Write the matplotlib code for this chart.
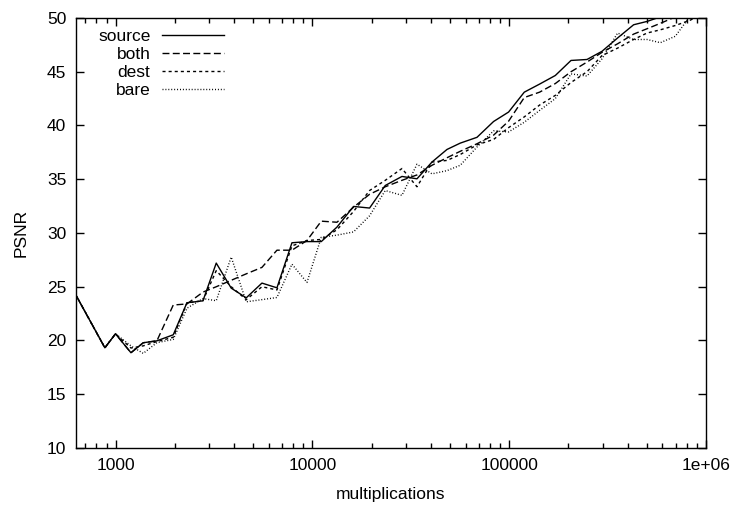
import numpy as np
import matplotlib
matplotlib.use('agg')
import matplotlib.pyplot as plt
from matplotlib.ticker import FixedLocator, LogLocator, FuncFormatter, NullFormatter

plt.rcParams['font.family'] = ['Liberation Sans', 'DejaVu Sans']
plt.rcParams['font.size'] = 12.5

# x positions shared by all runs (multiplications)
mults = [628, 883, 1000, 1198, 1383, 1623, 1965, 2306, 2781, 3249,
         3871, 4615, 5545, 6609, 7877, 9389, 11100, 13340, 16190, 19530,
         23470, 28530, 34000, 40530, 48300, 56420, 68620, 83300, 99300, 119300,
         142700, 171500, 206100, 248500, 296100, 355400, 428700, 501500, 585800, 698200,
         832300, 991800]

source = [24.25, 19.32, 20.62, 18.86, 19.79, 19.97, 20.53, 23.51, 23.69, 27.2,
          24.87, 23.97, 25.34, 24.9, 29.09, 29.2, 29.2, 30.55, 32.47, 32.32,
          34.42, 35.26, 35.04, 36.6, 37.77, 38.36, 38.9, 40.37, 41.25, 43.1,
          43.85, 44.65, 46.05, 46.14, 46.9, 48.14, 49.37, 49.68, 50.1, 50.6,
          51.2, 51.8]

both = [24.25, 19.32, 20.62, 18.86, 19.79, 19.97, 23.3, 23.4, 24.5, 25.0,
        25.6, 26.2, 26.8, 28.4, 28.4, 29.3, 31.1, 31.0, 32.4, 33.6,
        34.3, 34.9, 35.4, 36.3, 37.0, 37.6, 38.3, 39.1, 40.4, 42.6,
        43.1, 43.9, 45.0, 45.9, 46.8, 47.6, 48.5, 49.0, 49.5, 50.1,
        50.6, 51.2]

dest = [24.25, 19.32, 20.62, 19.3, 19.5, 19.9, 20.3, 23.5, 23.7, 26.5,
        25.0, 23.8, 25.0, 24.7, 28.8, 29.3, 29.4, 30.3, 32.0, 33.95,
        34.9, 36.0, 34.3, 36.6, 36.75, 37.3, 38.2, 38.7, 39.8, 40.8,
        41.9, 42.8, 44.0, 45.0, 46.5, 47.2, 48.0, 48.6, 48.9, 49.3,
        49.8, 50.5]

bare = [24.25, 19.32, 20.62, 19.5, 18.8, 19.8, 20.1, 23.0, 23.9, 23.7,
        27.76, 23.6, 23.8, 24.0, 27.1, 25.4, 29.6, 29.8, 30.1, 31.6,
        33.95, 33.5, 36.4, 35.5, 35.8, 36.3, 38.0, 39.5, 39.4, 40.3,
        41.4, 42.5, 44.8, 44.6, 46.2, 48.6, 48.0, 48.0, 47.7, 48.3,
        50.2, 51.5]

fig = plt.figure(figsize=(7.33, 5.11), dpi=100)
ax = fig.add_axes([0.1037, 0.1233, 0.8595, 0.8415])

ax.plot(mults, source, color='black', lw=1.0, label='source')
ax.plot(mults, both, color='black', lw=1.0, dashes=(5.0, 2.4), label='both')
ax.plot(mults, dest, color='black', lw=1.0, dashes=(2.2, 2.2), label='dest')
ax.plot(mults, bare, color='black', lw=1.0, dashes=(0.7, 1.4), label='bare')

ax.set_xscale('log')
ax.set_xlim(630, 1e6)
ax.set_ylim(10, 50)

ax.xaxis.set_major_locator(FixedLocator([1e3, 1e4, 1e5, 1e6]))
ax.xaxis.set_major_formatter(FuncFormatter(lambda v, p: '1e+06' if v >= 1e6 else '%d' % v))
ax.xaxis.set_minor_locator(LogLocator(base=10, subs=np.arange(2, 10)))
ax.xaxis.set_minor_formatter(NullFormatter())
ax.set_yticks(np.arange(10, 51, 5))

ax.tick_params(which='both', direction='in', top=True, right=True, width=1.0)
ax.tick_params(which='major', length=6, pad=7)
ax.tick_params(which='minor', length=3.5)
for s in ax.spines.values():
    s.set_linewidth(1.0)

ax.set_xlabel('multiplications', labelpad=10)
ax.set_ylabel('PSNR', labelpad=13)

leg = ax.legend(loc='upper left', bbox_to_anchor=(0.035, 0.975), frameon=False,
                markerfirst=False, handlelength=3.6, handletextpad=0.65,
                labelspacing=0.17, borderpad=0, borderaxespad=0)

# gnuplot-style key: right align the labels (measure, nudge, re-measure)
texts = leg.get_texts()
fig.canvas.draw()
right0 = [t.get_window_extent().x1 for t in texts]
for t in texts:
    t.set_position((10, 0))
fig.canvas.draw()
right1 = [t.get_window_extent().x1 for t in texts]
target = max(right0)
for t, r0, r1 in zip(texts, right0, right1):
    scale = (r1 - r0) / 10.0 if r1 != r0 else 1.0
    t.set_position(((target - r0) / scale, 0))

plt.savefig('out.png', dpi=100)
